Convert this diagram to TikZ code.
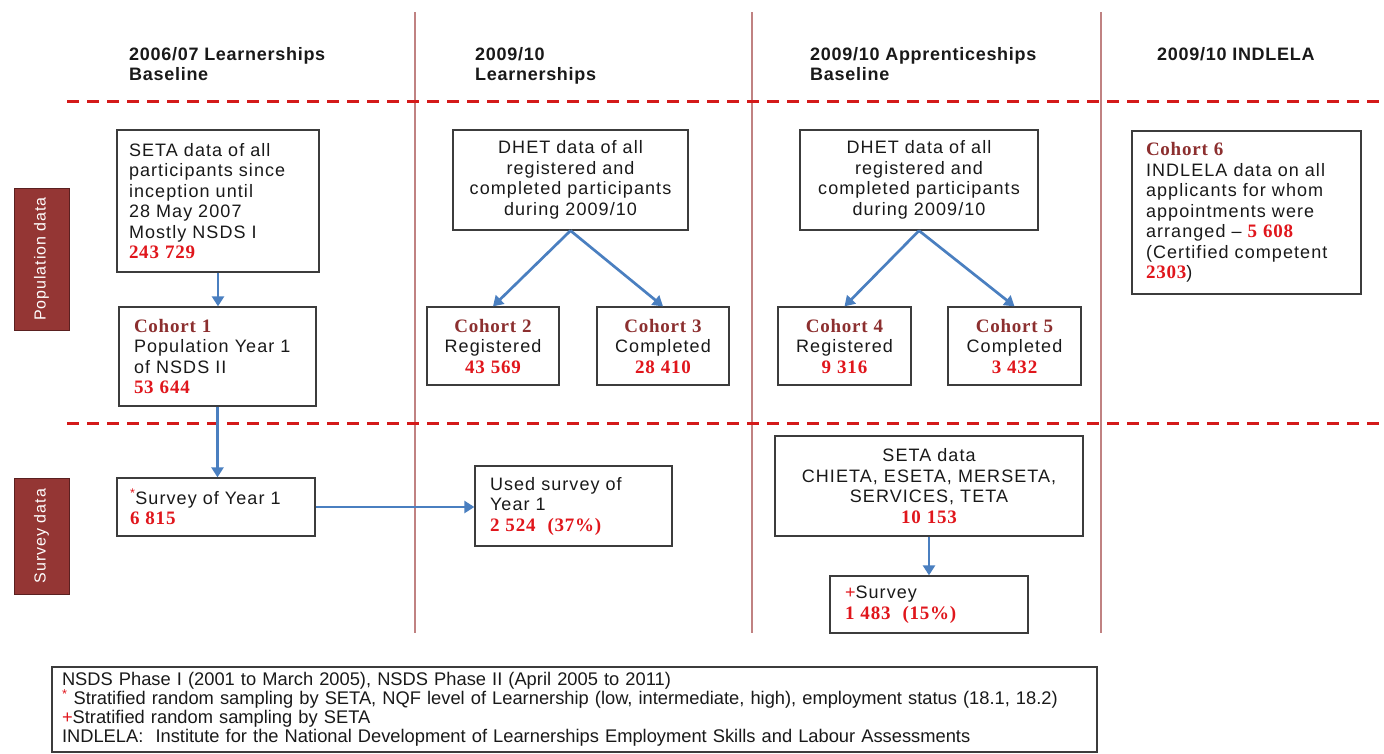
\documentclass[tikz,border=0pt]{standalone}
\usepackage{fontspec}
\usetikzlibrary{arrows.meta}
\setmainfont{Liberation Sans}
\newfontfamily\bodyf{Liberation Sans}[LetterSpace=6]
\newfontfamily\headf{Liberation Sans}[LetterSpace=4]
\newfontfamily\serf{Liberation Serif}[LetterSpace=4]
\newfontfamily\legf{Liberation Sans}
\newfontfamily\sidef{Liberation Sans}[LetterSpace=6]
\definecolor{cohred}{HTML}{8C2F2F}
\definecolor{numred}{HTML}{E0161C}
\definecolor{sidefill}{HTML}{943634}
\definecolor{sideline}{HTML}{5A2020}
\definecolor{vline}{HTML}{C08282}
\definecolor{dline}{HTML}{D41A1A}
\definecolor{arrowblue}{HTML}{4A7FC0}
\definecolor{boxline}{HTML}{3C3C3C}
\newcommand\coh[1]{{\serf\bfseries\fontsize{19}{20.5}\selectfont\color{cohred}#1}}
\newcommand\numr[1]{{\serf\bfseries\fontsize{19}{20.5}\selectfont\color{numred}#1}}
\newcommand\redmark[1]{{\color{numred}#1}}
\tikzset{
  box/.style={draw=boxline, line width=1.3pt, inner ysep=0pt,
    font=\bodyf\fontsize{18}{20.5}\selectfont, text=black!90},
  lbox/.style={box, align=left},
  cbox/.style={box, align=center, inner xsep=4pt},
  hdr/.style={anchor=north west, inner sep=0pt, align=left,
    font=\headf\bfseries\fontsize{18}{20}\selectfont, text=black!90},
  side/.style={rotate=90, fill=sidefill, draw=sideline, line width=1pt,
    text=white, font=\sidef\fontsize{16}{18}\selectfont, inner sep=0pt},
  arr/.style={draw=arrowblue, line width=2.7pt, -{Triangle[length=10pt,width=12pt]}},
  vsep/.style={draw=vline, line width=2pt},
  hsep/.style={draw=dline, line width=3pt, dash pattern=on 12pt off 8pt},
}
\begin{document}
\begin{tikzpicture}[x=1pt,y=-1pt]
\useasboundingbox (0,0) rectangle (1384,753);
% separators
\foreach \xx in {415,752,1101} \draw[vsep] (\xx,12) -- (\xx,633);
\draw[hsep] (67,101) -- (1384,101);
\draw[hsep] (67,423) -- (1384,423);
% headers
\node[hdr] (h1) at (129,47) {2006/07 Learnerships\\Baseline};
\node[hdr] (h2) at (475,47) {2009/10\\Learnerships};
\node[hdr] (h3) at (810,47) {2009/10 Apprenticeships\\Baseline};
\node[hdr] (h4) at (1157,47) {2009/10 INDLELA};
% side labels
\node[side, minimum width=142pt, minimum height=55pt] (pop) at (41.5,259) {Population data};
\node[side, minimum width=116pt, minimum height=55pt] (sur) at (41.5,536) {Survey data};
% column 1
\node[lbox, inner xsep=12pt, text width=178pt, minimum height=142pt] (b1) at (218,201)
  {SETA data of all\\participants since\\inception until\\28 May 2007\\Mostly NSDS I\\\numr{243 729}};
\node[lbox, inner xsep=15pt, text width=167pt, minimum height=99pt] (c1) at (217.5,356.5)
  {\coh{Cohort 1}\\Population Year 1\\of NSDS II\\\numr{53 644}};
\node[lbox, inner xsep=13pt, text width=172pt, minimum height=58pt] (s1) at (216,507)
  {\redmark{\textsuperscript{*}}Survey of Year 1\\\numr{6 815}};
% column 2
\node[lbox, inner xsep=15pt, text width=167pt, minimum height=80pt] (u1) at (573.5,506)
  {Used survey of\\Year 1\\\numr{2 524 \ (37\%)}};
\node[cbox, text width=227pt, minimum height=100pt] (d1) at (570.5,180)
  {DHET data of all\\registered and\\completed participants\\during 2009/10};
\node[cbox, text width=124pt, minimum height=78pt] (c2) at (493,346)
  {\coh{Cohort 2}\\Registered\\\numr{43 569}};
\node[cbox, text width=124pt, minimum height=78pt] (c3) at (663,346)
  {\coh{Cohort 3}\\Completed\\\numr{28 410}};
% column 3
\node[cbox, text width=230pt, minimum height=100pt] (d2) at (919,180)
  {DHET data of all\\registered and\\completed participants\\during 2009/10};
\node[cbox, text width=125pt, minimum height=78pt] (c4) at (844.5,346)
  {\coh{Cohort 4}\\Registered\\\numr{9 316}};
\node[cbox, text width=125pt, minimum height=78pt] (c5) at (1014.5,346)
  {\coh{Cohort 5}\\Completed\\\numr{3 432}};
\node[cbox, text width=300pt, minimum height=100pt] (sa) at (929,486)
  {SETA data\\CHIETA, ESETA, MERSETA,\\SERVICES, TETA\\\numr{10 153}};
\node[lbox, inner xsep=15pt, text width=168pt, minimum height=57pt] (sp) at (929,604.5)
  {\redmark{+}Survey\\\numr{1 483 \ (15\%)}};
% column 4
\node[lbox, inner xsep=14pt, text width=201pt, minimum height=163pt] (c6) at (1246.5,212.5)
  {\coh{Cohort 6}\\INDLELA data on all\\applicants for whom\\appointments were\\arranged – \numr{5 608}\\(Certified competent\\\numr{2303})};
% legend
\node[box, align=left, inner xsep=10pt, text width=1025pt, minimum height=85pt,
  font=\legf\fontsize{18.3}{19}\selectfont] (leg) at (574.5,709.5)
  {NSDS Phase I (2001 to March 2005), NSDS Phase II (April 2005 to 2011)\\
   \redmark{\textsuperscript{*}} Stratified random sampling by SETA, NQF level of Learnership (low, intermediate, high), employment status (18.1, 18.2)\\
   \redmark{+}Stratified random sampling by SETA\\
   INDLELA: \ Institute for the National Development of Learnerships Employment Skills and Labour Assessments};
% arrows
\draw[arr] (b1.south) -- (b1.south |- c1.north);
\draw[arr] (c1.south) -- (c1.south |- s1.north);
\draw[arr] (s1.east) -- (u1.west |- s1.east);
\draw[arr] (d1.south) -- (c2.north);
\draw[arr] (d1.south) -- (c3.north);
\draw[arr] (d2.south) -- (c4.north);
\draw[arr] (d2.south) -- (c5.north);
\draw[arr] (sa.south) -- (sp.north);
\end{tikzpicture}
\end{document}
